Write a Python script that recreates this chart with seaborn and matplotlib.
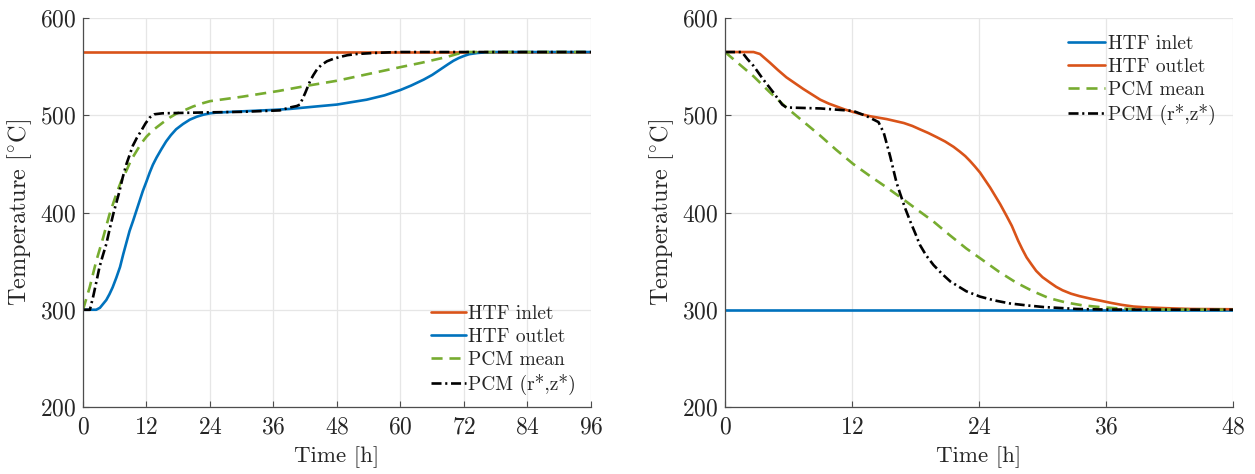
import numpy as np
import pandas as pd
import matplotlib
matplotlib.use("Agg")
import matplotlib.pyplot as plt
import seaborn as sns

# ---------------- data: charging (left) ----------------
chg_inlet_t = [0, 96]
chg_inlet_T = [565, 565]

chg_out_t = [0, 2.5, 3.2, 3.8, 4.4, 5.0, 5.6, 6.3, 7.0, 7.6, 8.2, 8.8, 9.5, 10.1, 10.7,
             11.3, 12, 12.6, 13.2, 13.9, 14.8, 15.7, 16.6, 17.6, 18.9, 20.2, 21.5, 22.7,
             24, 25.2, 30, 36, 39.1, 44, 48, 53.6, 57, 60, 62, 64.4, 66, 67.5, 69, 70,
             71, 72, 73, 74.5, 76, 78, 96]
chg_out_T = [300, 300, 302, 306, 310, 316, 323, 333, 344, 357, 369, 381, 392, 402, 412,
             422, 432, 441, 449, 456.5, 465, 473, 479.5, 485.6, 491, 495.5, 498.5, 500.5,
             502, 502.7, 504, 505.5, 506.5, 509, 511, 516, 520.5, 526, 530.5, 536.7, 541.5,
             547, 552.5, 556, 558.8, 561, 562.8, 564, 564.7, 565, 565]

chg_mean_t = [0, 1.26, 2.5, 3.8, 5.0, 6.3, 7.2, 8.2, 9.1, 10.1, 11, 12, 13, 13.9, 15.1,
              16.4, 17.6, 18.9, 20.8, 22.7, 24, 30, 37, 42, 48, 54, 60, 64, 68.8, 70.7,
              72.6, 96]
chg_mean_T = [300, 323, 350, 374, 398, 419, 432, 443, 454, 463, 471, 478, 483.5, 487.5,
              492.5, 497.6, 501.5, 504.5, 509, 512.5, 514.5, 519, 525, 530, 535.5, 542.5,
              549.5, 554, 560, 563, 565, 565]

chg_pcm_t = [0, 1.3, 1.9, 2.5, 3.1, 3.7, 4.4, 5.0, 5.7, 6.3, 6.9, 7.5, 8.2, 8.8, 9.4,
             10.2, 11, 11.8, 12.6, 13.5, 15, 24, 30, 37.2, 39.1, 40.4, 41, 42, 42.9,
             43.5, 44.2, 45, 46.1, 47.3, 48.6, 50, 51.8, 54.9, 58, 60, 96]
chg_pcm_T = [300, 300, 313, 328, 343.5, 355, 367.5, 382, 398, 410, 422, 436, 449.7, 459,
             468.5, 477, 484, 491.5, 497.6, 501, 502, 503, 503.5, 505, 508, 509.5, 511,
             523, 535, 541, 547, 551.5, 555.5, 558, 560, 561.8, 563, 564, 564.7, 565, 565]

# ---------------- data: discharging (right) ----------------
dis_inlet_t = [0, 48]
dis_inlet_T = [300, 300]

dis_out_t = [0, 2.7, 3.3, 4.25, 5.0, 5.8, 6.6, 7.4, 8.2, 9, 9.8, 10.55, 11.3, 12.1, 12.9,
             13.7, 14.5, 15.3, 16.1, 16.9, 17.7, 18.4, 19.2, 20, 20.8, 21.6, 22.2, 22.7,
             23.15, 23.6, 24.1, 25.05, 26, 26.6, 27.1, 27.7, 28.1, 28.5, 29, 29.4, 30,
             30.7, 31.3, 31.9, 32.7, 33.5, 34.7, 35.4, 36.5, 37.5, 38.6, 40, 41.7, 44, 48]
dis_out_T = [565, 565, 563, 554, 546.5, 539, 533, 527, 521.5, 516, 512, 509, 506, 503.4,
             501, 499, 497.5, 496, 494, 492, 489, 485.6, 481.8, 477.5, 473, 467.5, 462.5,
             458, 453, 447.5, 441, 425.7, 408.6, 396.6, 386.3, 371, 362, 353.8, 346, 340,
             333.5, 328, 323.5, 320, 316.5, 314, 311, 309.5, 307, 305, 303.3, 302.3, 301.6,
             300.8, 300.5]

dis_mean_t = [0, 1.3, 2.7, 4.2, 5.8, 7.4, 9, 10.5, 12.1, 13.7, 15.3, 16.85, 18.4, 19.7,
              21.2, 22.8, 24.1, 25.9, 27.5, 29.1, 30.6, 32.2, 33.8, 35.4, 37, 38.6, 42, 48]
dis_mean_T = [565, 553, 540, 524, 508, 493.5, 479, 464.5, 450, 437.5, 425.6, 413.5, 401,
              390.7, 377, 363, 353, 339, 328, 319, 312, 307.5, 304.5, 302.8, 301.5,
              300.7, 300.2, 300]

dis_pcm_t = [0, 1.6, 2.1, 2.7, 3.6, 4.6, 5.4, 5.8, 9, 12.1, 13.4, 14.5, 15, 15.3, 15.6,
             16.2, 16.5, 17, 17.5, 18, 18.4, 19, 19.7, 20.5, 21.3, 22.2, 22.8, 24.1, 25.5,
             26.9, 28.5, 30.1, 31.7, 33.2, 36, 48]
dis_pcm_T = [565, 565, 558, 550.7, 537, 523, 511, 508, 507, 504.5, 499, 493, 482, 470,
             458, 431, 421, 405, 391, 378, 367, 356, 346, 337, 329, 323, 319, 313.5,
             309.5, 306.5, 304.5, 302.8, 301.8, 300.8, 300.2, 300]

x_ticks_left = [0, 12, 24, 36, 48, 60, 72, 84, 96]
x_ticks_right = [0, 12, 24, 36, 48]
y_ticks = [200, 300, 400, 500, 600]

labels = ["HTF inlet", "HTF outlet", "PCM mean", "PCM (r*,z*)"]

# ---------------- style ----------------
sns.set_theme(style="white")
plt.rcParams["font.family"] = ["cmr10", "DejaVu Serif"]
plt.rcParams["mathtext.fontset"] = "cm"
plt.rcParams["axes.formatter.use_mathtext"] = True
plt.rcParams["axes.unicode_minus"] = False

ORANGE = "#D95319"
BLUE = "#0072BD"
GREEN = "#77AC30"
BLACK = "#000000"
LW = 1.9
DASH = (0, (4.2, 2.6))
DASHDOT = (0, (3.8, 1.4, 0.8, 1.4))

fig = plt.figure(figsize=(12.55, 4.74), dpi=100)
axL = fig.add_axes([83 / 1255, 1 - 407 / 474, 508 / 1255, 389 / 474])
axR = fig.add_axes([725 / 1255, 1 - 407 / 474, 508 / 1255, 389 / 474])


def draw(ax, t, T, color, ls, label):
    df = pd.DataFrame({"t": t, "T": T})
    sns.lineplot(data=df, x="t", y="T", ax=ax, color=color, linestyle=ls,
                 linewidth=LW, label=label, estimator=None, sort=False)


draw(axL, chg_inlet_t, chg_inlet_T, ORANGE, "-", labels[0])
draw(axL, chg_out_t, chg_out_T, BLUE, "-", labels[1])
draw(axL, chg_mean_t, chg_mean_T, GREEN, DASH, labels[2])
draw(axL, chg_pcm_t, chg_pcm_T, BLACK, DASHDOT, labels[3])

draw(axR, dis_inlet_t, dis_inlet_T, BLUE, "-", labels[0])
draw(axR, dis_out_t, dis_out_T, ORANGE, "-", labels[1])
draw(axR, dis_mean_t, dis_mean_T, GREEN, DASH, labels[2])
draw(axR, dis_pcm_t, dis_pcm_T, BLACK, DASHDOT, labels[3])

for ax, xt in ((axL, x_ticks_left), (axR, x_ticks_right)):
    ax.set_xlim(xt[0], xt[-1])
    ax.set_ylim(200, 600)
    ax.set_xticks(xt)
    ax.set_yticks(y_ticks)
    ax.grid(True, color="#e6e6e6", linewidth=0.9)
    ax.set_axisbelow(True)
    for s in ("top", "right"):
        ax.spines[s].set_visible(False)
    for s in ("left", "bottom"):
        ax.spines[s].set_color("#4d4d4d")
        ax.spines[s].set_linewidth(0.9)
    ax.tick_params(direction="in", length=4, width=0.8, color="#4d4d4d",
                   labelsize=17, labelcolor="#262626", left=True, bottom=True)
    ax.tick_params(axis="x", pad=7)
    ax.tick_params(axis="y", pad=5)
    ax.set_xlabel("Time [h]", fontsize=16.5, color="#262626", labelpad=5)
    ax.set_ylabel("Temperature [$^{\\circ}$C]", fontsize=17.5, color="#262626", labelpad=4)

legL = axL.legend(loc="upper left", bbox_to_anchor=(0.686, 0.262), frameon=False,
                  fontsize=14, handlelength=1.75, handletextpad=0.12,
                  labelspacing=0.26, borderpad=0, borderaxespad=0)
legR = axR.legend(loc="upper left", bbox_to_anchor=(0.676, 0.957), frameon=False,
                  fontsize=14, handlelength=1.9, handletextpad=0.12,
                  labelspacing=0.26, borderpad=0, borderaxespad=0)
for leg in (legL, legR):
    for txt in leg.get_texts():
        txt.set_color("#262626")

fig.savefig("out.png", dpi=100)
